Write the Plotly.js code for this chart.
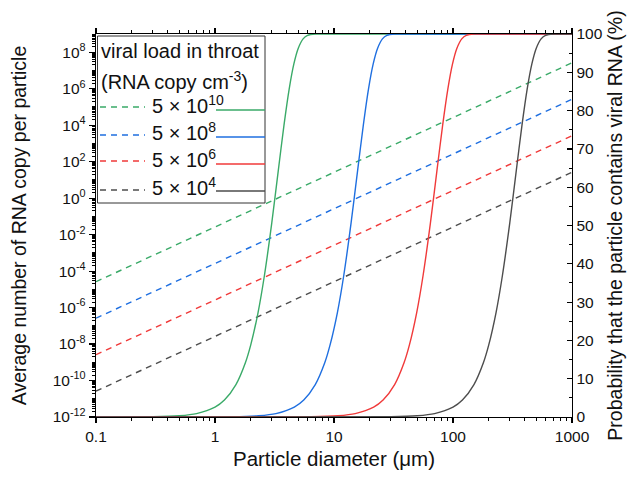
<!DOCTYPE html>
<html><head><meta charset="utf-8">
<script src="https://cdn.plot.ly/plotly-3.0.1.min.js"></script>
<style>html,body{margin:0;padding:0;background:#fff}</style>
</head><body><div id="chart" style="width:634px;height:481px"></div>
<script>
// ---- data ----
const loadLabels = ['5 × 10<sup>10</sup>', '5 × 10<sup>8</sup>', '5 × 10<sup>6</sup>', '5 × 10<sup>4</sup>'];
const colors = ['#3aaa68', '#1f6fe0', '#f03a3a', '#4d4d4d'];

// average RNA copies per particle (dashed, left log axis)
const dashX = [0.1, 1000];
const avgGreen = [2.62e-5, 2.62e7];
const avgBlue  = [2.62e-7, 2.62e5];
const avgRed   = [2.62e-9, 2.62e3];
const avgBlack = [2.62e-11, 2.62e1];

// probability that the particle contains viral RNA (solid, right axis, %)
const probGreenX = [0.1, 0.3, 0.5, 0.7, 1, 1.2, 1.5, 1.8, 2, 2.3, 2.6, 3, 3.4, 3.8, 4.2, 4.6, 5, 5.5, 6, 7, 8, 1000];
const probBlueX  = [0.1, 1.39, 2.32, 3.25, 4.64, 5.57, 6.96, 8.36, 9.28, 10.68, 12.07, 13.92, 15.78, 17.64, 19.49, 21.35, 23.21, 25.53, 27.85, 32.49, 37.13, 1000];
const probRedX   = [0.1, 6.46, 10.77, 15.08, 21.54, 25.85, 32.32, 38.78, 43.09, 49.55, 56.01, 64.63, 73.25, 81.87, 90.49, 99.1, 107.7, 118.5, 129.3, 150.8, 172.4, 1000];
const probBlackX = [0.1, 30, 50, 70, 100, 120, 150, 180, 200, 230, 260, 300, 340, 380, 420, 460, 500, 550, 600, 700, 800, 1000];
const probGreen = [0, 0.07, 0.33, 0.89, 2.58, 4.42, 8.46, 14.16, 18.89, 27.28, 36.88, 50.68, 64.26, 76.23, 85.63, 92.18, 96.21, 98.72, 99.65, 99.99, 100, 100];
const probBlue  = [0, 0.07, 0.33, 0.89, 2.58, 4.42, 8.46, 14.16, 18.89, 27.28, 36.88, 50.68, 64.26, 76.23, 85.63, 92.18, 96.21, 98.72, 99.65, 99.99, 100, 100];
const probRed   = [0, 0.07, 0.33, 0.89, 2.58, 4.42, 8.46, 14.16, 18.89, 27.28, 36.88, 50.68, 64.26, 76.23, 85.63, 92.18, 96.21, 98.72, 99.65, 99.99, 100, 100];
const probBlack = [0, 0.07, 0.33, 0.89, 2.58, 4.42, 8.46, 14.16, 18.89, 27.28, 36.88, 50.68, 64.26, 76.23, 85.63, 92.18, 96.21, 98.72, 99.65, 99.99, 100, 100];

// tick labels
const xTickVals = [0.1, 1, 10, 100, 1000];
const xTickText = ['0.1', '1', '10', '100', '1000'];
const yTickVals = [1e-12, 1e-10, 1e-8, 1e-6, 1e-4, 1e-2, 1, 1e2, 1e4, 1e6, 1e8];
const yTickText = ['10<sup>-12</sup>', '10<sup>-10</sup>', '10<sup>-8</sup>', '10<sup>-6</sup>', '10<sup>-4</sup>', '10<sup>-2</sup>', '10<sup>0</sup>', '10<sup>2</sup>', '10<sup>4</sup>', '10<sup>6</sup>', '10<sup>8</sup>'];
const y2TickVals = [0, 10, 20, 30, 40, 50, 60, 70, 80, 90, 100];
const y2TickText = ['0', '10', '20', '30', '40', '50', '60', '70', '80', '90', '100'];

// ---- build ----
const avgSeries = [avgGreen, avgBlue, avgRed, avgBlack];
const probXs = [probGreenX, probBlueX, probRedX, probBlackX];
const probYs = [probGreen, probBlue, probRed, probBlack];
const DASH = '6px,5px';
const traces = [];
for (let i = 0; i < 4; i++) {
  traces.push({x: dashX, y: avgSeries[i], type: 'scatter', mode: 'lines', yaxis: 'y',
    line: {color: colors[i], width: 1.4, dash: DASH}, showlegend: false, hoverinfo: 'skip'});
}
for (let i = 0; i < 4; i++) {
  traces.push({x: probXs[i], y: probYs[i], type: 'scatter', mode: 'lines', yaxis: 'y2',
    line: {color: colors[i], width: 1.4, shape: 'spline', smoothing: 0.7}, showlegend: false, hoverinfo: 'skip'});
}

const W = 634, H = 481, L = 96, R = 62, T = 34, B = 64;
const pw = W - L - R, ph = H - T - B;
const px2x = p => (p - L) / pw;
const py2y = p => (H - B - p) / ph;

const shapes = [{type: 'rect', xref: 'paper', yref: 'paper', layer: 'above',
  x0: px2x(97.5), x1: px2x(265), y0: py2y(203), y1: py2y(36),
  fillcolor: '#ffffff', line: {color: '#333333', width: 1}}];
const annotations = [
  {text: 'viral load in throat', x: px2x(99), y: py2y(51)},
  {text: '(RNA copy cm<sup>-3</sup>)', x: px2x(99), y: py2y(80)}
].map(a => Object.assign(a, {xref: 'paper', yref: 'paper', xanchor: 'left', yanchor: 'middle', showarrow: false, font: {size: 20, color: '#111'}}));
const dashYs = [107, 135, 161, 190];
const solidYs = [110, 137, 164, 191];
const textYs = [104, 131, 158, 186];
for (let i = 0; i < 4; i++) {
  shapes.push({type: 'line', xref: 'paper', yref: 'paper', layer: 'above',
    x0: px2x(100), x1: px2x(145), y0: py2y(dashYs[i]), y1: py2y(dashYs[i]),
    line: {color: colors[i], width: 1.4, dash: DASH}});
  shapes.push({type: 'line', xref: 'paper', yref: 'paper', layer: 'above',
    x0: px2x(216), x1: px2x(265), y0: py2y(solidYs[i]), y1: py2y(solidYs[i]),
    line: {color: colors[i], width: 1.6}});
  annotations.push({text: loadLabels[i], xref: 'paper', yref: 'paper', x: px2x(150), y: py2y(textYs[i]),
    xanchor: 'left', yanchor: 'middle', showarrow: false, font: {size: 20, color: '#111'}});
}

const axisCommon = {showgrid: false, zeroline: false, showline: true, linecolor: '#000', linewidth: 1.3,
  tickcolor: '#000', tickwidth: 1.2, tickfont: {size: 15.5, color: '#111'}};

const layout = {
  width: W, height: H, margin: {l: L, r: R, t: T, b: B},
  paper_bgcolor: '#fff', plot_bgcolor: '#fff',
  font: {family: 'Liberation Sans, Arial, sans-serif', color: '#111'},
  showlegend: false,
  xaxis: Object.assign({}, axisCommon, {type: 'log', range: [-1, 3], tickmode: 'array',
    tickvals: xTickVals, ticktext: xTickText, ticks: 'outside', ticklen: 5, mirror: 'ticks',
    minor: {ticks: 'outside', ticklen: 3, dtick: 'D1', tickcolor: '#000', tickwidth: 1, showgrid: false},
    title: {text: 'Particle diameter (μm)', font: {size: 20.5, color: '#111'}, standoff: 7}}),
  yaxis: Object.assign({}, axisCommon, {type: 'log', range: [-12, 9], tickmode: 'array',
    tickvals: yTickVals, ticktext: yTickText, ticks: 'outside', ticklen: 6,
    minor: {ticks: 'outside', ticklen: 3, dtick: 'D1', tickcolor: '#000', tickwidth: 1, showgrid: false},
    title: {text: 'Average number of RNA copy per particle', font: {size: 19.5, color: '#111'}, standoff: 20}}),
  yaxis2: Object.assign({}, axisCommon, {overlaying: 'y', side: 'right', range: [0, 100], tickmode: 'array',
    tickvals: y2TickVals, ticktext: y2TickText, ticks: 'inside', ticklen: 5,
    minor: {ticks: 'inside', ticklen: 3, dtick: 5, tickcolor: '#000', tickwidth: 1, showgrid: false},
    title: {text: 'Probability that the particle contains viral RNA (%)', font: {size: 19.5, color: '#111'}, standoff: 6}}),
  shapes: shapes, annotations: annotations
};
Plotly.newPlot('chart', traces, layout, {displayModeBar: false, staticPlot: true});
</script></body></html>
